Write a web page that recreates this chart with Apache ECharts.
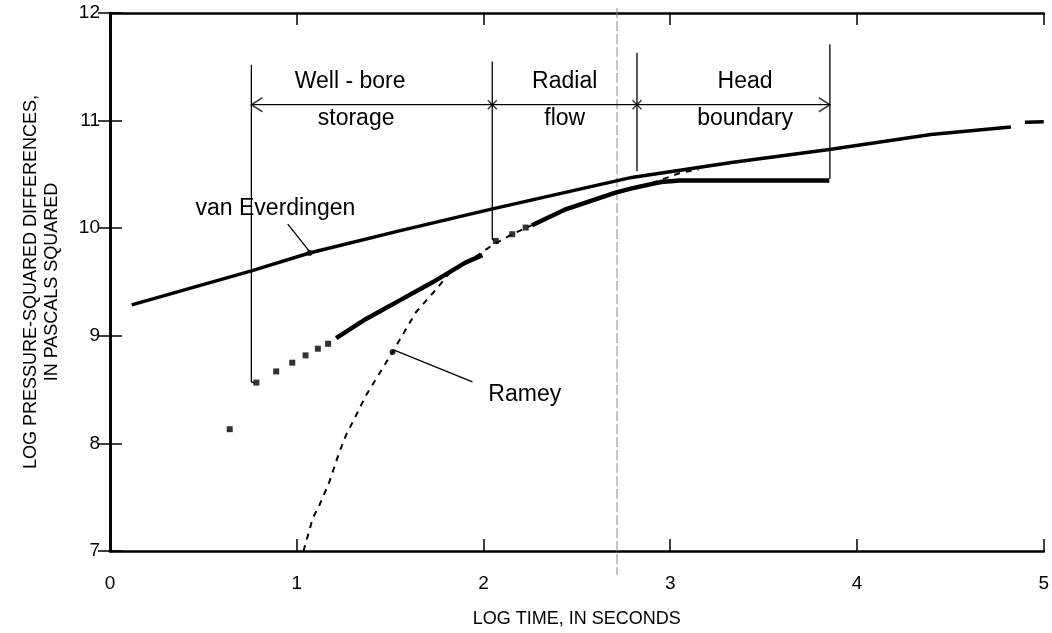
<!DOCTYPE html>
<html>
<head>
<meta charset="utf-8">
<script src="https://cdn.jsdelivr.net/npm/echarts@6/dist/echarts.min.js"></script>
<style>
  html, body { margin: 0; padding: 0; background: #fff; }
  #chart { width: 1052px; height: 633px; }
</style>
</head>
<body>
<div id="chart"></div>
<script>
// Axis ranges (log10 units)
const xRange = [0, 5];
const yRange = [7, 12];

// Type curve: van Everdingen (log time, log pressure-squared difference)
const vanEverdingen = [
  [0.116, 9.287], [0.757, 9.604], [1.068, 9.769], [1.549, 9.975],
  [2.048, 10.180], [2.794, 10.472], [3.328, 10.611], [3.852, 10.731],
  [4.396, 10.870], [4.824, 10.941]
];
const vanEverdingenEnd = [[4.899, 10.985], [5.0, 10.99]];

// Type curve: Ramey
const ramey = [
  [1.036, 7.0], [1.086, 7.306], [1.122, 7.429], [1.175, 7.645],
  [1.229, 7.923], [1.264, 8.077], [1.318, 8.262], [1.371, 8.447],
  [1.513, 8.849], [1.638, 9.219], [1.763, 9.466], [1.834, 9.620],
  [1.923, 9.694], [2.046, 9.840], [2.154, 9.944], [2.260, 10.028],
  [2.440, 10.176], [2.707, 10.331], [2.885, 10.407], [3.061, 10.519],
  [3.152, 10.546]
];

// Measured test data: isolated early readings
const measuredPoints = [
  [0.641, 8.132], [0.784, 8.565], [0.890, 8.669], [0.976, 8.750],
  [1.047, 8.818], [1.113, 8.880], [1.168, 8.926],
  [2.066, 9.882], [2.154, 9.944], [2.226, 10.006]
];
// Measured test data: dense runs of readings
const measuredRunA = [
  [1.211, 8.979], [1.371, 9.157], [1.549, 9.327], [1.727, 9.497],
  [1.905, 9.682], [1.994, 9.750]
];
const measuredRunB = [
  [2.260, 10.028], [2.440, 10.176], [2.707, 10.331], [2.794, 10.370],
  [2.950, 10.430], [3.050, 10.444], [3.852, 10.444]
];

// Flow-period brackets
const periodBounds = [0.757, 2.047, 2.822, 3.855];
const bracketTops = [11.52, 11.55, 11.63, 11.71];
const bracketBottoms = [8.575, 9.90, 10.53, 10.46];
const arrowLevel = 11.148;
const periodNames = [
  { name: 'Well - bore', value: [1.286, 11.361] },
  { name: 'storage', value: [1.318, 11.019] },
  { name: 'Radial', value: [2.435, 11.364] },
  { name: 'flow', value: [2.435, 11.019] },
  { name: 'Head', value: [3.401, 11.364] },
  { name: 'boundary', value: [3.401, 11.019] }
];

// Curve labels with leaders
const curveNames = [
  { name: 'van Everdingen', value: [0.886, 10.185] },
  { name: 'Ramey', value: [2.221, 8.454] }
];
const leaderVanEverdingen = [[0.952, 10.037], [1.070, 9.780]];
const leaderRamey = [[1.941, 8.571], [1.525, 8.864]];

// Reference time line
const refTime = 2.715;

const FONT = 'Liberation Sans, Arial, Helvetica, sans-serif';
const INK = '#000';

function segment(data, width, extra) {
  return Object.assign({
    type: 'line', data: data, symbol: 'none', silent: true,
    lineStyle: { color: INK, width: width, cap: 'butt', join: 'miter' },
    animation: false
  }, extra || {});
}

const series = [];

// reference time line (dashed, grey), runs slightly past the frame
series.push(segment([[refTime, 12.046], [refTime, 6.78]], 1, {
  clip: false,
  lineStyle: { color: '#8a8a8a', width: 1, type: [10, 3] }
}));

// brackets
periodBounds.forEach((x, i) => {
  const pts = [[x, bracketTops[i]], [x, bracketBottoms[i]]];
  if (i === 0) pts.push([0.775, 8.556]);
  if (i === 1) pts.push([2.058, 9.885]);
  series.push(segment(pts, 1.3));
});
series.push(segment([[periodBounds[0], arrowLevel], [periodBounds[3], arrowLevel]], 1.3));

// arrow heads and junction crosses
series.push({
  type: 'scatter', silent: true, animation: false,
  data: [
    { value: [periodBounds[0], arrowLevel], symbol: 'path://M12,0 L0,7.5 L12,15', symbolSize: [11, 14], symbolOffset: [5.5, 0] },
    { value: [periodBounds[3], arrowLevel], symbol: 'path://M0,0 L12,7.5 L0,15', symbolSize: [11, 14], symbolOffset: [-5.5, 0] },
    { value: [periodBounds[1], arrowLevel], symbol: 'path://M0,0 L10,10 M10,0 L0,10', symbolSize: 9 },
    { value: [periodBounds[2], arrowLevel], symbol: 'path://M0,0 L10,10 M10,0 L0,10', symbolSize: 9 }
  ],
  itemStyle: { color: 'rgba(0,0,0,0)', borderColor: INK, borderWidth: 1.4 }
});

// curves
series.push(segment(vanEverdingen, 3.5));
series.push(segment(vanEverdingenEnd, 3.5, { clip: false }));
series.push(segment(ramey, 2, { lineStyle: { color: INK, width: 2, type: [6, 6] } }));
series.push(segment(measuredRunA, 4.5));
series.push(segment(measuredRunB, 4.5));
series.push({
  type: 'scatter', data: measuredPoints, symbol: 'rect', symbolSize: 6,
  itemStyle: { color: INK }, silent: true, animation: false
});

// leaders
series.push(segment(leaderVanEverdingen, 1.3));
series.push(segment(leaderRamey, 1.3));
series.push({
  type: 'scatter', silent: true, animation: false,
  data: [[1.068, 9.769], [1.513, 8.849]],
  symbol: 'circle', symbolSize: 6, itemStyle: { color: INK }
});

// text annotations
series.push({
  type: 'scatter', silent: true, animation: false,
  data: periodNames.concat(curveNames),
  symbolSize: 1, itemStyle: { color: '#fff', opacity: 0 },
  label: {
    show: true, position: 'inside', formatter: '{b}',
    color: INK, opacity: 1, textBorderWidth: 0,
    fontFamily: FONT, fontSize: 23,
    align: 'center', verticalAlign: 'middle'
  }
});

const frameLine = { show: true, lineStyle: { color: INK, width: 2.6 } };
const innerTick = { show: true, inside: true, length: 12, lineStyle: { color: INK, width: 1.5 } };

const option = {
  backgroundColor: '#fff',
  animation: false,
  grid: { left: 110, top: 13, right: 6, bottom: 80 },
  xAxis: [
    {
      type: 'value', min: xRange[0], max: xRange[1], interval: 1,
      position: 'bottom',
      name: 'LOG TIME, IN SECONDS', nameLocation: 'middle', nameGap: 59,
      nameTextStyle: { color: INK, fontFamily: FONT, fontSize: 18 },
      axisLine: frameLine, axisTick: innerTick,
      axisLabel: { color: INK, fontFamily: FONT, fontSize: 19, margin: 23 },
      splitLine: { show: false }
    },
    {
      type: 'value', min: xRange[0], max: xRange[1], interval: 1,
      position: 'top',
      axisLine: frameLine, axisTick: innerTick,
      axisLabel: { show: false }, splitLine: { show: false }
    }
  ],
  yAxis: [
    {
      type: 'value', min: yRange[0], max: yRange[1], interval: 1,
      position: 'left',
      name: 'LOG PRESSURE-SQUARED DIFFERENCES,\nIN PASCALS SQUARED',
      nameLocation: 'middle', nameGap: 47, nameRotate: 90,
      nameTextStyle: { color: INK, fontFamily: FONT, fontSize: 18, lineHeight: 21, align: 'center' },
      axisLine: frameLine, axisTick: innerTick,
      axisLabel: { color: INK, fontFamily: FONT, fontSize: 19, margin: 10 },
      splitLine: { show: false }
    },
    {
      type: 'value', min: yRange[0], max: yRange[1], interval: 1,
      position: 'right',
      axisLine: frameLine, axisTick: innerTick,
      axisLabel: { show: false }, splitLine: { show: false }
    }
  ],
  series: series
};

const chart = echarts.init(document.getElementById('chart'), null, { renderer: 'canvas' });
chart.setOption(option);
</script>
</body>
</html>
